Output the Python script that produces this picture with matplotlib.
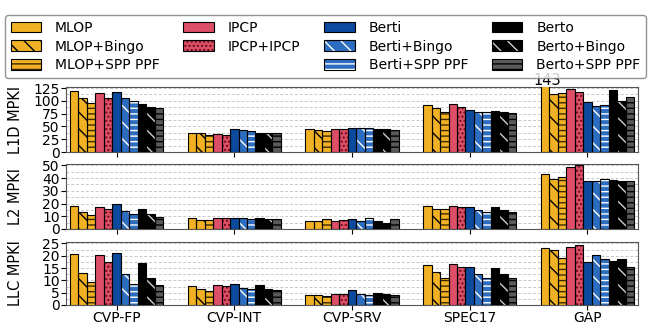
import numpy as np
import matplotlib
matplotlib.use("Agg")
import matplotlib.pyplot as plt
from matplotlib.patches import Patch
from matplotlib.legend_handler import HandlerTuple
from matplotlib.ticker import MultipleLocator

plt.rcParams['font.family'] = ['DejaVu Sans']
plt.rcParams['hatch.linewidth'] = 1.0

suites = ["CVP-FP", "CVP-INT", "CVP-SRV", "SPEC17", "GAP"]
series = ["MLOP", "MLOP+Bingo", "MLOP+SPP PPF", "IPCP", "IPCP+IPCP",
          "Berti", "Berti+Bingo", "Berti+SPP PPF",
          "Berto", "Berto+Bingo", "Berto+SPP PPF"]

# rows follow `series`, columns follow `suites`
l1d_mpki = [
    [120, 38, 44, 91, 143],
    [105, 37.5, 43, 86, 113],
    [95, 34, 41, 79, 115],
    [115, 36, 44, 93, 124],
    [105, 34, 44, 87.5, 117],
    [118, 44, 46, 82, 97],
    [105, 43, 46, 79, 89],
    [99, 41, 46, 78, 92],
    [93, 38, 44, 80, 122],
    [87, 38, 44, 79, 99],
    [85, 37, 43, 76, 108],
]
l2_mpki = [
    [18.2, 8.3, 6.3, 18, 43.5],
    [13.5, 7, 6.3, 16, 39],
    [11, 7, 8, 15.4, 40.6],
    [17.5, 8.3, 6.5, 18, 48.7],
    [15.6, 8.3, 6.8, 17.5, 50],
    [20, 9, 7.5, 17, 37.8],
    [14, 8.3, 6, 14.8, 37.8],
    [11.5, 7.8, 9, 13, 39],
    [16, 9, 6, 17, 38.8],
    [12, 7.8, 5, 14.8, 37.5],
    [9.6, 7.8, 8, 13, 37.5],
]
llc_mpki = [
    [20.6, 7.7, 4, 16.2, 23.3],
    [13, 6.4, 4, 13.3, 22.3],
    [9.3, 5.7, 3.6, 10.9, 18.9],
    [20.2, 8, 4.5, 16.8, 23.7],
    [17.5, 7.7, 4.3, 15.6, 24.3],
    [21, 8.6, 5.9, 15.3, 17.3],
    [12.6, 6.9, 4.3, 12.5, 20.2],
    [8.6, 6.4, 4, 10.9, 18.6],
    [16.9, 8.2, 4.7, 15.2, 18],
    [10.9, 6.6, 4.3, 12.5, 18.6],
    [8, 6.2, 4, 11, 15.6],
]

# face colour, hatch pattern, hatch colour
styles = [
    ("#F2B124", "", "black"),
    ("#F2B124", "\\\\", "black"),
    ("#F2B124", "---", "#3a2a00"),
    ("#DD4E67", "", "black"),
    ("#DD4E67", "....", "#6a0c1c"),
    ("#0B4A9C", "", "black"),
    ("#2C6DBF", "\\\\", "white"),
    ("#2C6DBF", "---", "white"),
    ("#000000", "", "black"),
    ("#000000", "\\\\", "#d0d0d0"),
    ("#5a5a5a", "---", "black"),
]

W, H = 650, 324
fig = plt.figure(figsize=(W / 100, H / 100), dpi=100)

panels = [
    ("L1D MPKI", l1d_mpki, 127, 25, 12.5, (87, 152)),
    ("L2 MPKI", l2_mpki, 51, 10, 5, (164, 229)),
    ("LLC MPKI", llc_mpki, 25.6, 5, 2.5, (242, 305)),
]

x = np.arange(len(suites))
bw = 0.072
n = len(series)
left, right = 66, 638

for pi, (ylabel, data, ymax, major, minor, (top, bot)) in enumerate(panels):
    ax = fig.add_axes([left / W, 1 - bot / H, (right - left) / W, (bot - top) / H])
    for i, (fc, hatch, hc) in enumerate(styles):
        xs = x + (i - (n - 1) / 2) * bw
        ax.bar(xs, data[i], bw, color=fc, hatch=hatch, edgecolor=hc, linewidth=0, zorder=3)
        ax.bar(xs, data[i], bw, fill=False, edgecolor="black", linewidth=0.8, zorder=4)
    ax.set_xlim(-0.43, len(suites) - 1 + 0.43)
    ax.set_ylim(0, ymax)
    ax.yaxis.set_major_locator(MultipleLocator(major))
    ax.yaxis.set_minor_locator(MultipleLocator(minor))
    ax.tick_params(axis='y', which='minor', length=0)
    ax.grid(True, which='both', axis='y', linestyle=(0, (3, 2)), color='#c8c8c8', linewidth=0.7, zorder=0)
    ax.set_axisbelow(True)
    ax.set_xticks(x)
    ax.tick_params(axis='y', labelsize=10, pad=1)
    ax.tick_params(axis='x', labelsize=10, pad=1)
    ax.set_ylabel(ylabel, fontsize=10.5, labelpad=2)
    for s in ax.spines.values():
        s.set_color('#555555')
    if pi < 2:
        ax.set_xticklabels([])
    else:
        ax.set_xticklabels(suites)
    if pi == 0:
        xg = x[4] + (0 - (n - 1) / 2) * bw
        ax.text(xg + 0.02, ymax - 1, "143", ha='center', va='bottom', fontsize=10.5)
    ax.yaxis.set_label_coords(-0.075, 0.5)

handles = []
labels = []
for i, (fc, hatch, hc) in enumerate(styles):
    p1 = Patch(facecolor=fc, hatch=hatch, edgecolor=hc, linewidth=0)
    p2 = Patch(fill=False, edgecolor="black", linewidth=0.8)
    handles.append((p1, p2))
    labels.append(series[i])
    if i == 4:
        handles.append(Patch(visible=False))
        labels.append("")

fig.legend(handles, labels, ncol=4, loc='lower left',
           bbox_to_anchor=(5 / W, 1 - 78 / H, 641 / W, 74 / H), mode='expand',
           fontsize=10, handlelength=2.2, handleheight=0.8, labelspacing=0.35,
           columnspacing=1.0, handletextpad=1.0, borderaxespad=0, frameon=True,
           edgecolor='#777777', fancybox=True,
           handler_map={tuple: HandlerTuple(ndivide=1)})

fig.savefig("out.png", dpi=100)
